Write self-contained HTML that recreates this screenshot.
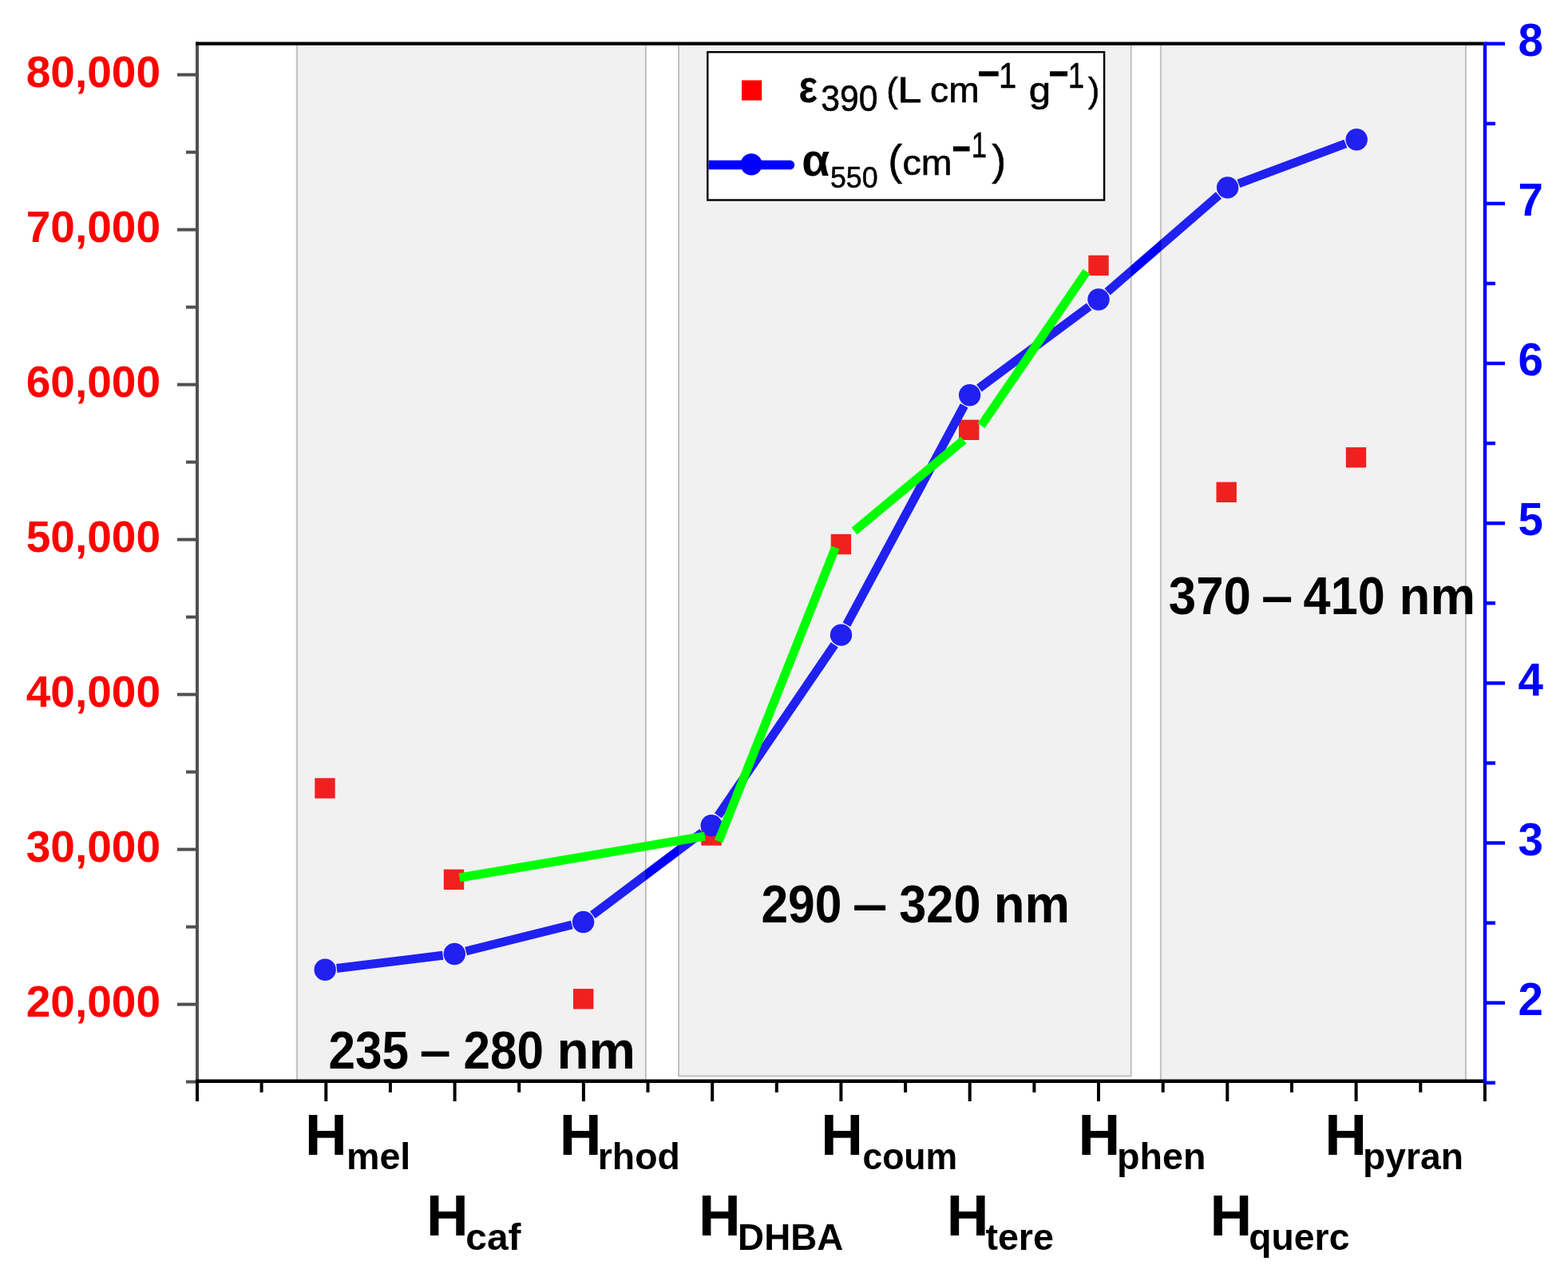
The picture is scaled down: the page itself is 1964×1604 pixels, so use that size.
<!DOCTYPE html><html><head><meta charset="utf-8"><title>chart</title><style>
html,body{margin:0;padding:0;background:#fff;}svg{display:block;}
text{font-family:"Liberation Sans",Arial,sans-serif;}
</style></head><body>
<svg width="1964" height="1604" viewBox="0 0 1964 1604">
<rect x="0" y="0" width="1964" height="1604" fill="#fff"/>
<rect x="394.3" y="974.3" width="25.4" height="25.4" fill="#ff0000"/>
<rect x="555.8" y="1088.6" width="25.4" height="25.4" fill="#ff0000"/>
<rect x="718.0" y="1238.1" width="25.4" height="25.4" fill="#ff0000"/>
<rect x="878.3" y="1033.3" width="25.4" height="25.4" fill="#ff0000"/>
<rect x="1040.7" y="668.8" width="25.4" height="25.4" fill="#ff0000"/>
<rect x="1201.0" y="525.6" width="25.4" height="25.4" fill="#ff0000"/>
<rect x="1363.3" y="319.7" width="25.4" height="25.4" fill="#ff0000"/>
<rect x="1523.5" y="603.6" width="25.4" height="25.4" fill="#ff0000"/>
<rect x="1685.8" y="560.1" width="25.4" height="25.4" fill="#ff0000"/>
<line x1="421.8" y1="1212.5" x2="554.7" y2="1196.3" stroke="#0000ff" stroke-width="11" stroke-linecap="butt"/>
<line x1="583.6" y1="1191.0" x2="716.3" y2="1158.0" stroke="#0000ff" stroke-width="11" stroke-linecap="butt"/>
<line x1="742.3" y1="1145.7" x2="879.5" y2="1042.4" stroke="#0000ff" stroke-width="11" stroke-linecap="butt"/>
<line x1="899.5" y1="1021.4" x2="1045.2" y2="807.3" stroke="#0000ff" stroke-width="11" stroke-linecap="butt"/>
<line x1="1060.4" y1="782.1" x2="1207.7" y2="507.8" stroke="#0000ff" stroke-width="11" stroke-linecap="butt"/>
<line x1="1226.4" y1="486.0" x2="1364.2" y2="383.8" stroke="#0000ff" stroke-width="11" stroke-linecap="butt"/>
<line x1="1387.1" y1="365.4" x2="1526.5" y2="244.5" stroke="#0000ff" stroke-width="11" stroke-linecap="butt"/>
<line x1="1551.4" y1="229.8" x2="1685.4" y2="179.8" stroke="#0000ff" stroke-width="11" stroke-linecap="butt"/>
<circle cx="407.2" cy="1214.3" r="13.7" fill="#0000ff"/>
<circle cx="569.3" cy="1194.5" r="13.7" fill="#0000ff"/>
<circle cx="730.6" cy="1154.5" r="13.7" fill="#0000ff"/>
<circle cx="891.2" cy="1033.6" r="13.7" fill="#0000ff"/>
<circle cx="1053.5" cy="795.1" r="13.7" fill="#0000ff"/>
<circle cx="1214.6" cy="494.8" r="13.7" fill="#0000ff"/>
<circle cx="1376.0" cy="375.0" r="13.7" fill="#0000ff"/>
<circle cx="1537.6" cy="234.9" r="13.7" fill="#0000ff"/>
<circle cx="1699.2" cy="174.7" r="13.7" fill="#0000ff"/>
<rect x="371.8" y="54.6" width="437.1" height="1299.2" fill="rgba(177,177,177,0.18)" stroke="rgba(0,0,0,0.22)" stroke-width="2"/>
<rect x="850.0" y="54.6" width="566.8" height="1292.9" fill="rgba(177,177,177,0.18)" stroke="rgba(0,0,0,0.22)" stroke-width="2"/>
<rect x="1453.8" y="54.6" width="382.2" height="1299.2" fill="rgba(177,177,177,0.18)" stroke="rgba(0,0,0,0.22)" stroke-width="2"/>
<line x1="575.5" y1="1099.0" x2="883.0" y2="1047.0" stroke="#00ff00" stroke-width="11" stroke-linecap="butt"/>
<line x1="900.0" y1="1053.5" x2="1046.5" y2="685.5" stroke="#00ff00" stroke-width="11" stroke-linecap="butt"/>
<line x1="1070.0" y1="665.0" x2="1207.0" y2="551.0" stroke="#00ff00" stroke-width="11" stroke-linecap="butt"/>
<line x1="1229.0" y1="533.0" x2="1361.0" y2="340.0" stroke="#00ff00" stroke-width="11" stroke-linecap="butt"/>
<line x1="222" y1="1257.6" x2="247.0" y2="1257.6" stroke="#505050" stroke-width="4"/>
<line x1="222" y1="1063.6" x2="247.0" y2="1063.6" stroke="#505050" stroke-width="4"/>
<line x1="222" y1="869.6" x2="247.0" y2="869.6" stroke="#505050" stroke-width="4"/>
<line x1="222" y1="675.6" x2="247.0" y2="675.6" stroke="#505050" stroke-width="4"/>
<line x1="222" y1="481.6" x2="247.0" y2="481.6" stroke="#505050" stroke-width="4"/>
<line x1="222" y1="287.6" x2="247.0" y2="287.6" stroke="#505050" stroke-width="4"/>
<line x1="222" y1="93.6" x2="247.0" y2="93.6" stroke="#505050" stroke-width="4"/>
<line x1="233" y1="1354.6" x2="247.0" y2="1354.6" stroke="#505050" stroke-width="4"/>
<line x1="233" y1="1160.6" x2="247.0" y2="1160.6" stroke="#505050" stroke-width="4"/>
<line x1="233" y1="966.6" x2="247.0" y2="966.6" stroke="#505050" stroke-width="4"/>
<line x1="233" y1="772.6" x2="247.0" y2="772.6" stroke="#505050" stroke-width="4"/>
<line x1="233" y1="578.6" x2="247.0" y2="578.6" stroke="#505050" stroke-width="4"/>
<line x1="233" y1="384.6" x2="247.0" y2="384.6" stroke="#505050" stroke-width="4"/>
<line x1="233" y1="190.6" x2="247.0" y2="190.6" stroke="#505050" stroke-width="4"/>
<line x1="247.0" y1="52.6" x2="247.0" y2="1355.8" stroke="#505050" stroke-width="4"/>
<line x1="245" y1="1353.8" x2="1862" y2="1353.8" stroke="#000" stroke-width="4.4"/>
<line x1="247.0" y1="1353.8" x2="247.0" y2="1379" stroke="#000" stroke-width="4"/>
<line x1="408.3" y1="1353.8" x2="408.3" y2="1379" stroke="#000" stroke-width="4"/>
<line x1="569.6" y1="1353.8" x2="569.6" y2="1379" stroke="#000" stroke-width="4"/>
<line x1="730.9" y1="1353.8" x2="730.9" y2="1379" stroke="#000" stroke-width="4"/>
<line x1="892.2" y1="1353.8" x2="892.2" y2="1379" stroke="#000" stroke-width="4"/>
<line x1="1053.4" y1="1353.8" x2="1053.4" y2="1379" stroke="#000" stroke-width="4"/>
<line x1="1214.7" y1="1353.8" x2="1214.7" y2="1379" stroke="#000" stroke-width="4"/>
<line x1="1376.0" y1="1353.8" x2="1376.0" y2="1379" stroke="#000" stroke-width="4"/>
<line x1="1537.3" y1="1353.8" x2="1537.3" y2="1379" stroke="#000" stroke-width="4"/>
<line x1="1698.6" y1="1353.8" x2="1698.6" y2="1379" stroke="#000" stroke-width="4"/>
<line x1="1859.9" y1="1353.8" x2="1859.9" y2="1379" stroke="#000" stroke-width="4"/>
<line x1="327.6" y1="1353.8" x2="327.6" y2="1367.8" stroke="#000" stroke-width="4"/>
<line x1="488.9" y1="1353.8" x2="488.9" y2="1367.8" stroke="#000" stroke-width="4"/>
<line x1="650.2" y1="1353.8" x2="650.2" y2="1367.8" stroke="#000" stroke-width="4"/>
<line x1="811.5" y1="1353.8" x2="811.5" y2="1367.8" stroke="#000" stroke-width="4"/>
<line x1="972.8" y1="1353.8" x2="972.8" y2="1367.8" stroke="#000" stroke-width="4"/>
<line x1="1134.1" y1="1353.8" x2="1134.1" y2="1367.8" stroke="#000" stroke-width="4"/>
<line x1="1295.4" y1="1353.8" x2="1295.4" y2="1367.8" stroke="#000" stroke-width="4"/>
<line x1="1456.7" y1="1353.8" x2="1456.7" y2="1367.8" stroke="#000" stroke-width="4"/>
<line x1="1618.0" y1="1353.8" x2="1618.0" y2="1367.8" stroke="#000" stroke-width="4"/>
<line x1="1779.3" y1="1353.8" x2="1779.3" y2="1367.8" stroke="#000" stroke-width="4"/>
<line x1="245" y1="54.6" x2="1858" y2="54.6" stroke="#000" stroke-width="4.4"/>
<line x1="1860.0" y1="1255.7" x2="1885" y2="1255.7" stroke="#0000ff" stroke-width="4.4"/>
<line x1="1860.0" y1="1055.5" x2="1885" y2="1055.5" stroke="#0000ff" stroke-width="4.4"/>
<line x1="1860.0" y1="855.4" x2="1885" y2="855.4" stroke="#0000ff" stroke-width="4.4"/>
<line x1="1860.0" y1="655.2" x2="1885" y2="655.2" stroke="#0000ff" stroke-width="4.4"/>
<line x1="1860.0" y1="455.0" x2="1885" y2="455.0" stroke="#0000ff" stroke-width="4.4"/>
<line x1="1860.0" y1="254.9" x2="1885" y2="254.9" stroke="#0000ff" stroke-width="4.4"/>
<line x1="1860.0" y1="54.7" x2="1885" y2="54.7" stroke="#0000ff" stroke-width="4.4"/>
<line x1="1860.0" y1="1355.8" x2="1873" y2="1355.8" stroke="#0000ff" stroke-width="4.4"/>
<line x1="1860.0" y1="1155.6" x2="1873" y2="1155.6" stroke="#0000ff" stroke-width="4.4"/>
<line x1="1860.0" y1="955.5" x2="1873" y2="955.5" stroke="#0000ff" stroke-width="4.4"/>
<line x1="1860.0" y1="755.3" x2="1873" y2="755.3" stroke="#0000ff" stroke-width="4.4"/>
<line x1="1860.0" y1="555.1" x2="1873" y2="555.1" stroke="#0000ff" stroke-width="4.4"/>
<line x1="1860.0" y1="355.0" x2="1873" y2="355.0" stroke="#0000ff" stroke-width="4.4"/>
<line x1="1860.0" y1="154.8" x2="1873" y2="154.8" stroke="#0000ff" stroke-width="4.4"/>
<line x1="1860.0" y1="52.6" x2="1860.0" y2="1356" stroke="#0000ff" stroke-width="4.4"/>
<text x="201" y="1273.2" text-anchor="end" font-size="55" font-weight="bold" fill="#ff0000">20,000</text>
<text x="201" y="1079.2" text-anchor="end" font-size="55" font-weight="bold" fill="#ff0000">30,000</text>
<text x="201" y="885.2" text-anchor="end" font-size="55" font-weight="bold" fill="#ff0000">40,000</text>
<text x="201" y="691.2" text-anchor="end" font-size="55" font-weight="bold" fill="#ff0000">50,000</text>
<text x="201" y="497.2" text-anchor="end" font-size="55" font-weight="bold" fill="#ff0000">60,000</text>
<text x="201" y="303.2" text-anchor="end" font-size="55" font-weight="bold" fill="#ff0000">70,000</text>
<text x="201" y="109.2" text-anchor="end" font-size="55" font-weight="bold" fill="#ff0000">80,000</text>
<text x="1901.5" y="1270.9" font-size="56.5" font-weight="bold" fill="#0000ff">2</text>
<text x="1901.5" y="1070.8" font-size="56.5" font-weight="bold" fill="#0000ff">3</text>
<text x="1901.5" y="870.6" font-size="56.5" font-weight="bold" fill="#0000ff">4</text>
<text x="1901.5" y="670.4" font-size="56.5" font-weight="bold" fill="#0000ff">5</text>
<text x="1901.5" y="470.2" font-size="56.5" font-weight="bold" fill="#0000ff">6</text>
<text x="1901.5" y="270.1" font-size="56.5" font-weight="bold" fill="#0000ff">7</text>
<text x="1901.5" y="69.9" font-size="56.5" font-weight="bold" fill="#0000ff">8</text>
<text x="382.0" y="1445.8" font-size="73" font-weight="bold" fill="#000">H</text>
<text x="433.9" y="1464.1" font-size="46.8" font-weight="bold" fill="#000" textLength="80.4" lengthAdjust="spacingAndGlyphs">mel</text>
<text x="534.0" y="1546.8" font-size="73" font-weight="bold" fill="#000">H</text>
<text x="583.3" y="1565.1" font-size="46.8" font-weight="bold" fill="#000" textLength="69.2" lengthAdjust="spacingAndGlyphs">caf</text>
<text x="700.7" y="1445.8" font-size="73" font-weight="bold" fill="#000">H</text>
<text x="748.8" y="1464.1" font-size="46.8" font-weight="bold" fill="#000" textLength="103.1" lengthAdjust="spacingAndGlyphs">rhod</text>
<text x="875.1" y="1546.8" font-size="73" font-weight="bold" fill="#000">H</text>
<text x="924.1" y="1565.1" font-size="46.8" font-weight="bold" fill="#000" textLength="132.2" lengthAdjust="spacingAndGlyphs">DHBA</text>
<text x="1028.3" y="1445.8" font-size="73" font-weight="bold" fill="#000">H</text>
<text x="1080.4" y="1464.1" font-size="46.8" font-weight="bold" fill="#000" textLength="118.8" lengthAdjust="spacingAndGlyphs">coum</text>
<text x="1185.7" y="1546.8" font-size="73" font-weight="bold" fill="#000">H</text>
<text x="1234.4" y="1565.1" font-size="46.8" font-weight="bold" fill="#000" textLength="85.5" lengthAdjust="spacingAndGlyphs">tere</text>
<text x="1350.5" y="1445.8" font-size="73" font-weight="bold" fill="#000">H</text>
<text x="1399.1" y="1464.1" font-size="46.8" font-weight="bold" fill="#000" textLength="111.4" lengthAdjust="spacingAndGlyphs">phen</text>
<text x="1515.5" y="1546.8" font-size="73" font-weight="bold" fill="#000">H</text>
<text x="1564.3" y="1565.1" font-size="46.8" font-weight="bold" fill="#000" textLength="126.1" lengthAdjust="spacingAndGlyphs">querc</text>
<text x="1659.3" y="1445.8" font-size="73" font-weight="bold" fill="#000">H</text>
<text x="1706.9" y="1464.1" font-size="46.8" font-weight="bold" fill="#000" textLength="126.0" lengthAdjust="spacingAndGlyphs">pyran</text>
<text x="411.4" y="1337.8" font-size="66" font-weight="bold" fill="#000" textLength="100.6" lengthAdjust="spacingAndGlyphs">235</text>
<text x="525.8" y="1337.8" font-size="66" font-weight="bold" fill="#000" textLength="38.9" lengthAdjust="spacingAndGlyphs">–</text>
<text x="580.5" y="1337.8" font-size="66" font-weight="bold" fill="#000" textLength="100.4" lengthAdjust="spacingAndGlyphs">280</text>
<text x="697.4" y="1337.8" font-size="66" font-weight="bold" fill="#000" textLength="98.6" lengthAdjust="spacingAndGlyphs">nm</text>
<text x="953.4" y="1155.0" font-size="66" font-weight="bold" fill="#000" textLength="101.0" lengthAdjust="spacingAndGlyphs">290</text>
<text x="1067.7" y="1155.0" font-size="66" font-weight="bold" fill="#000" textLength="43.8" lengthAdjust="spacingAndGlyphs">–</text>
<text x="1126.3" y="1155.0" font-size="66" font-weight="bold" fill="#000" textLength="102.2" lengthAdjust="spacingAndGlyphs">320</text>
<text x="1244.7" y="1155.0" font-size="66" font-weight="bold" fill="#000" textLength="95.3" lengthAdjust="spacingAndGlyphs">nm</text>
<text x="1463.8" y="768.6" font-size="66" font-weight="bold" fill="#000" textLength="103.1" lengthAdjust="spacingAndGlyphs">370</text>
<text x="1580.1" y="768.6" font-size="66" font-weight="bold" fill="#000" textLength="39.3" lengthAdjust="spacingAndGlyphs">–</text>
<text x="1632.6" y="768.6" font-size="66" font-weight="bold" fill="#000" textLength="102.2" lengthAdjust="spacingAndGlyphs">410</text>
<text x="1752.6" y="768.6" font-size="66" font-weight="bold" fill="#000" textLength="95.4" lengthAdjust="spacingAndGlyphs">nm</text>
<rect x="886.3" y="65.2" width="496.8" height="185.3" fill="#fff" stroke="#000" stroke-width="2.4"/>
<rect x="929" y="100.5" width="25.2" height="25.2" fill="#ff0000"/>
<line x1="887.5" y1="206.6" x2="990" y2="206.6" stroke="#0000ff" stroke-width="11.5" stroke-linecap="butt"/>
<circle cx="989.5" cy="206.6" r="5.75" fill="#0000ff"/>
<circle cx="941.1" cy="205.8" r="13.6" fill="#0000ff"/>
<text x="1000.2" y="128.0" font-size="57" font-weight="bold" fill="#000" textLength="23.9" lengthAdjust="spacingAndGlyphs">ε</text>
<text x="1028.3" y="139.0" font-size="45.5" font-weight="normal" fill="#000" stroke="#000" stroke-width="0.6" textLength="71.3" lengthAdjust="spacingAndGlyphs">390</text>
<text x="1110.3" y="128.0" font-size="44" font-weight="normal" fill="#000" stroke="#000" stroke-width="0.5">(</text>
<text x="1124.3" y="128.0" font-size="44" font-weight="normal" fill="#000" stroke="#000" stroke-width="0.8" textLength="30.1" lengthAdjust="spacingAndGlyphs">L</text>
<text x="1165.1" y="128.0" font-size="44" font-weight="normal" fill="#000" stroke="#000" stroke-width="0.6" textLength="61.5" lengthAdjust="spacingAndGlyphs">cm</text>
<text x="1225.1" y="106.7" font-size="44" font-weight="bold" fill="#000" stroke="#000" stroke-width="1.6" textLength="26.7" lengthAdjust="spacingAndGlyphs">−</text>
<text x="1250.9" y="109.7" font-size="44" font-weight="normal" fill="#000" stroke="#000" stroke-width="0.6" textLength="22.2" lengthAdjust="spacingAndGlyphs">1</text>
<text x="1288.8" y="128.0" font-size="44" font-weight="normal" fill="#000" stroke="#000" stroke-width="0.6" textLength="27.4" lengthAdjust="spacingAndGlyphs">g</text>
<text x="1313.9" y="106.7" font-size="44" font-weight="bold" fill="#000" stroke="#000" stroke-width="1.6" textLength="24.0" lengthAdjust="spacingAndGlyphs">−</text>
<text x="1337.9" y="109.7" font-size="44" font-weight="normal" fill="#000" stroke="#000" stroke-width="0.6" textLength="20.0" lengthAdjust="spacingAndGlyphs">1</text>
<text x="1362.7" y="128.0" font-size="44" font-weight="normal" fill="#000" stroke="#000" stroke-width="0.5">)</text>
<text x="1004.3" y="220.0" font-size="57" font-weight="bold" fill="#000">α</text>
<text x="1039.9" y="235.0" font-size="37" font-weight="normal" fill="#000" stroke="#000" stroke-width="0.5" textLength="59.7" lengthAdjust="spacingAndGlyphs">550</text>
<text x="1112.2" y="219.0" font-size="54" font-weight="normal" fill="#000" stroke="#000" stroke-width="0.5">(</text>
<text x="1130.4" y="219.0" font-size="44" font-weight="normal" fill="#000" stroke="#000" stroke-width="0.6" textLength="62.0" lengthAdjust="spacingAndGlyphs">cm</text>
<text x="1193.1" y="201.4" font-size="44" font-weight="bold" fill="#000" stroke="#000" stroke-width="1.6" textLength="22.5" lengthAdjust="spacingAndGlyphs">−</text>
<text x="1216.8" y="196.6" font-size="44" font-weight="normal" fill="#000" stroke="#000" stroke-width="0.6" textLength="19.2" lengthAdjust="spacingAndGlyphs">1</text>
<text x="1242.2" y="219.0" font-size="54" font-weight="normal" fill="#000" stroke="#000" stroke-width="0.5">)</text>
</svg></body></html>
